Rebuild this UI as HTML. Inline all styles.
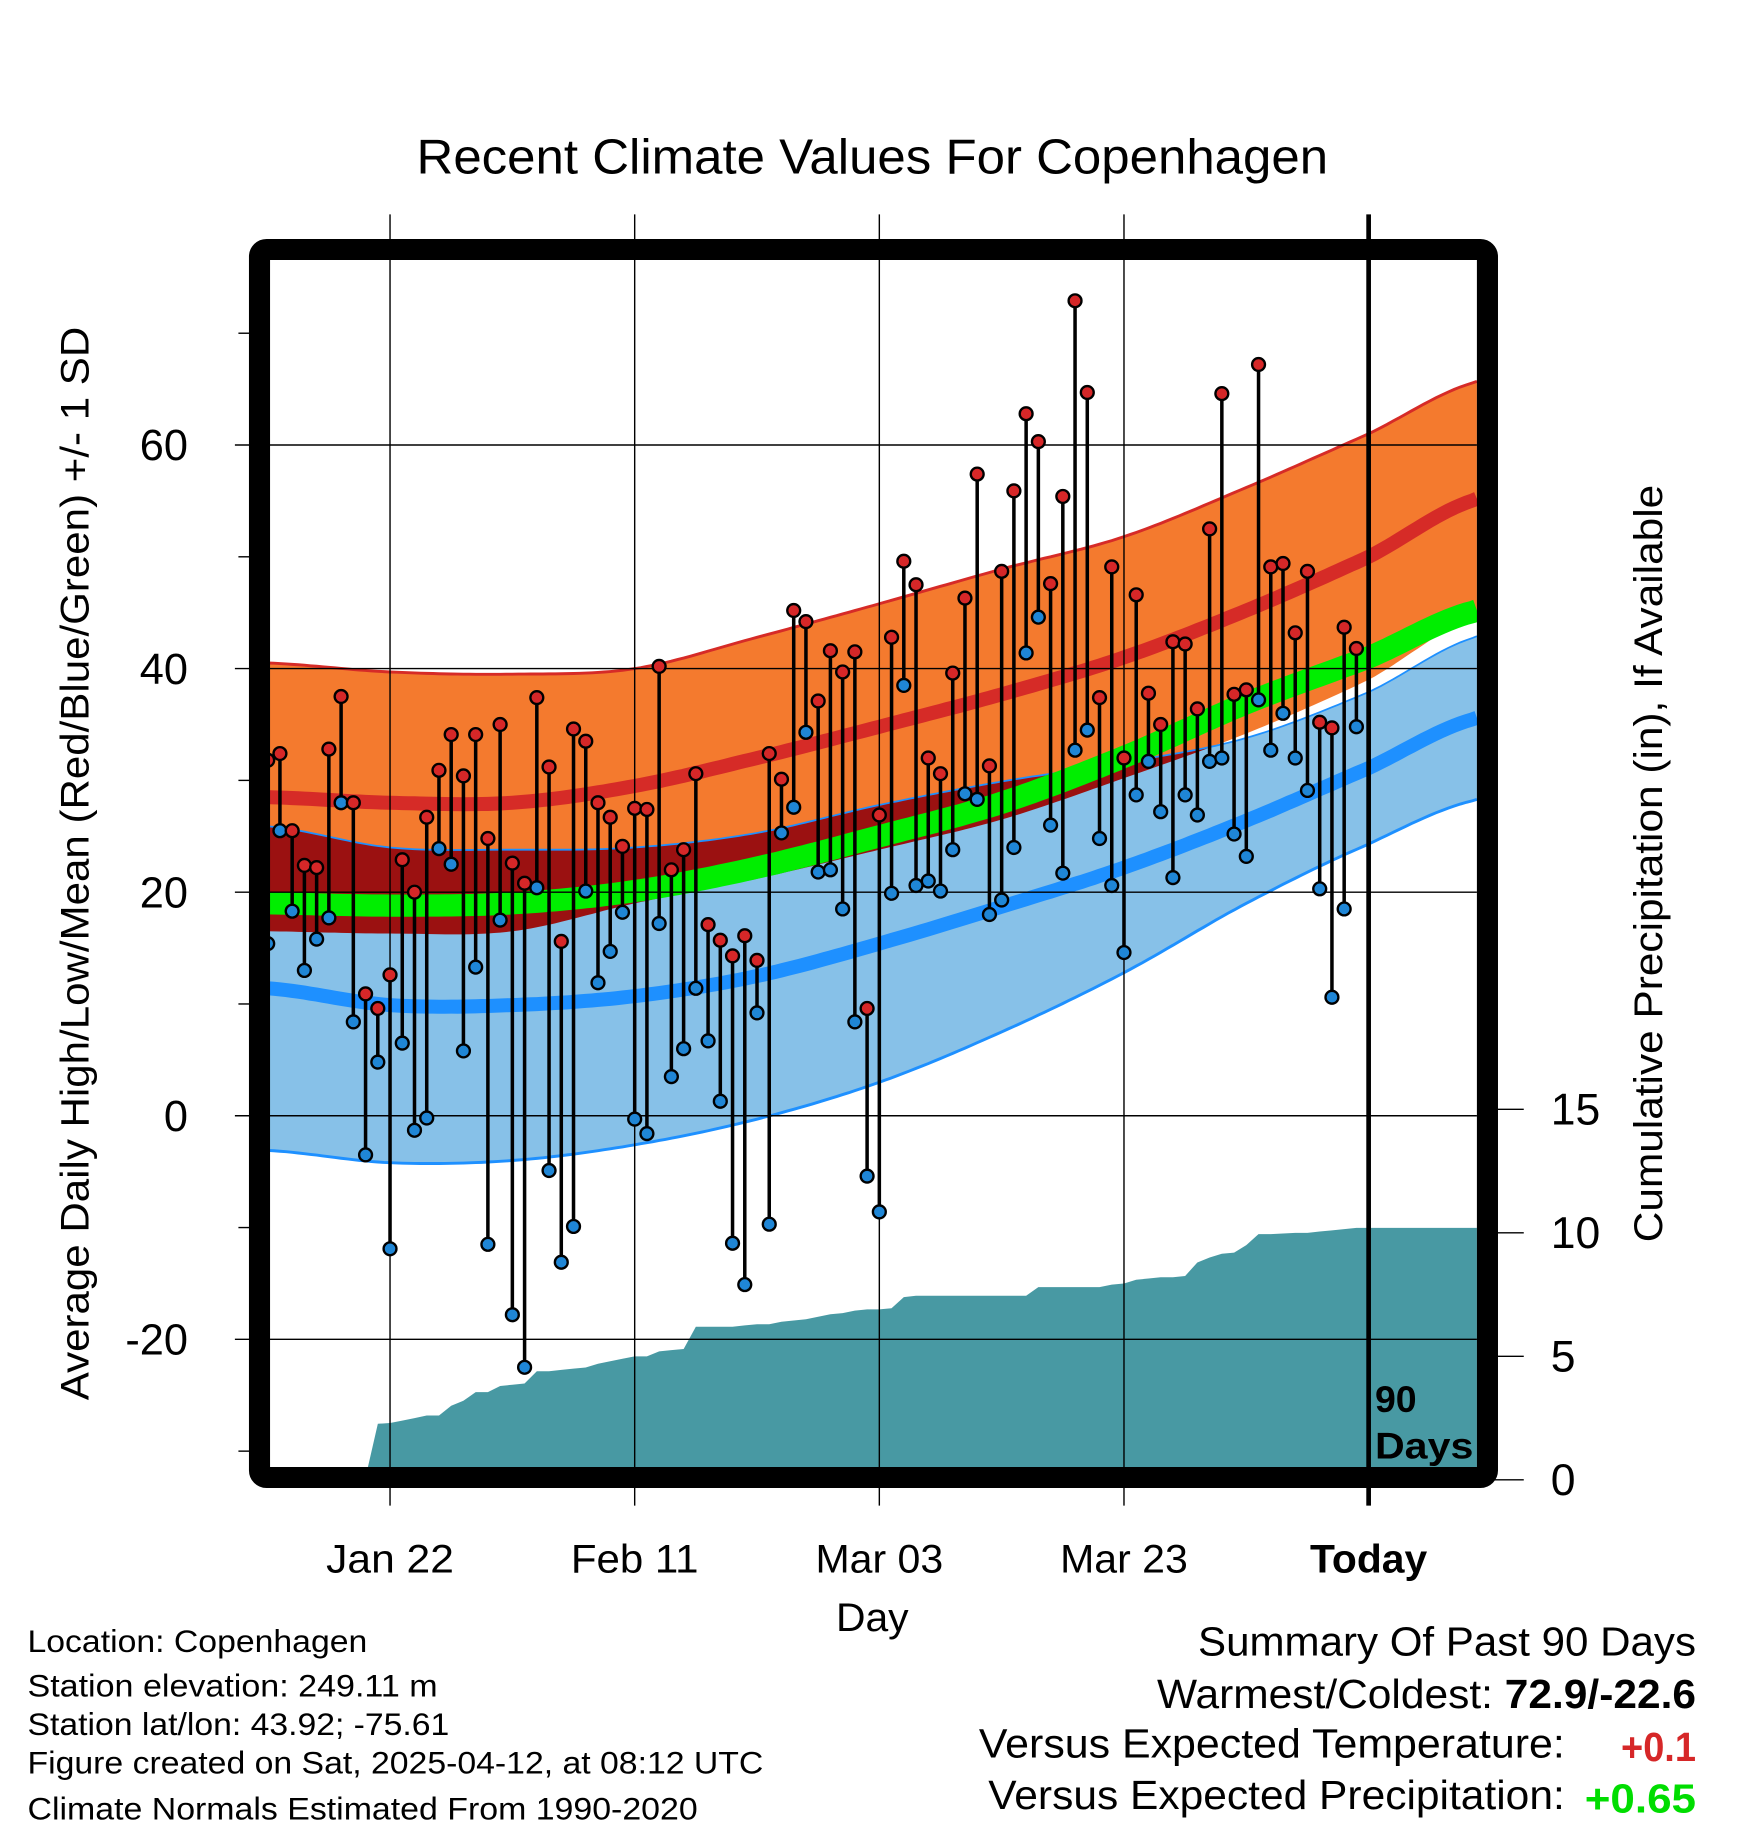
<!DOCTYPE html>
<html><head><meta charset="utf-8"><style>
html,body{margin:0;padding:0;background:#fff}
svg{display:block}
text{font-family:"Liberation Sans",sans-serif;fill:#000}
</style></head><body>
<svg id="chart" width="1748" height="1828" viewBox="0 0 1748 1828" xmlns="http://www.w3.org/2000/svg">
<g id="root" transform="translate(-5.3,-4.5) scale(1.1717,1.1706)">
<g id="bands"></g>
<g id="precip"></g>
<g id="grid"></g>
<g id="marks"></g>
<rect x="226" y="217" width="1048" height="1049" rx="6" fill="none" stroke="#000" stroke-width="18"/>
<g id="axes"></g>
<text x="360" y="152" font-size="42" textLength="778" lengthAdjust="spacingAndGlyphs">Recent Climate Values For Copenhagen</text>
<text x="718" y="1397" font-size="34" textLength="62" lengthAdjust="spacingAndGlyphs">Day</text>
<text transform="translate(80,1200) rotate(-90)" font-size="34" textLength="917" lengthAdjust="spacingAndGlyphs">Average Daily High/Low/Mean (Red/Blue/Green) +/- 1 SD</text>
<text transform="translate(1423,1065) rotate(-90)" font-size="34" textLength="647" lengthAdjust="spacingAndGlyphs">Cumulative Precipitation (in), If Available</text>
<text x="1178" y="1210" font-size="32" font-weight="bold">90</text>
<text x="1178" y="1250" font-size="32" font-weight="bold" textLength="84" lengthAdjust="spacingAndGlyphs">Days</text>
<g font-size="27">
<text x="28" y="1415" textLength="290" lengthAdjust="spacingAndGlyphs">Location: Copenhagen</text>
<text x="28" y="1453" textLength="350" lengthAdjust="spacingAndGlyphs">Station elevation: 249.11 m</text>
<text x="28" y="1486" textLength="360" lengthAdjust="spacingAndGlyphs">Station lat/lon: 43.92; -75.61</text>
<text x="28" y="1519" textLength="628" lengthAdjust="spacingAndGlyphs">Figure created on Sat, 2025-04-12, at 08:12 UTC</text>
<text x="28" y="1558" textLength="572" lengthAdjust="spacingAndGlyphs">Climate Normals Estimated From 1990-2020</text>
</g>
<g font-size="35">
<text x="1027" y="1418" textLength="425" lengthAdjust="spacingAndGlyphs">Summary Of Past 90 Days</text>
<text x="992" y="1463" textLength="460" lengthAdjust="spacingAndGlyphs">Warmest/Coldest: <tspan font-weight="bold">72.9/-22.6</tspan></text>
<text x="840" y="1505" textLength="500" lengthAdjust="spacingAndGlyphs">Versus Expected Temperature:</text>
<text x="1388" y="1508" font-weight="bold" textLength="64" lengthAdjust="spacingAndGlyphs" style="fill:#d62728">+0.1</text>
<text x="848" y="1549" textLength="492" lengthAdjust="spacingAndGlyphs">Versus Expected Precipitation:</text>
<text x="1357" y="1552" font-weight="bold" textLength="95" lengthAdjust="spacingAndGlyphs" style="fill:#00dd00">+0.65</text>
</g>
</g>
</svg>
<script>
// normals sampled every 10 days (index 0..100)
const normIdx = [0,10,20,30,40,50,60,70,80,90,99];
const normHigh = [28.5,28,28,29.5,32,34.8,37.7,41,45.2,50,55.2];
const sdHigh = [12,11.7,11.5,10.5,10.8,11,11.2,10.8,11,11,10.5];
const normLow = [11.4,9.9,9.9,10.7,12.5,15.4,18.7,22.2,26.4,31.1,35.6];
const sdLow = [14.5,14.1,13.9,13.3,12.8,12.4,11.2,9.4,7.4,6.8,7.3];
const normMean = [19,18.8,19,20.1,22.2,25,28,32.1,36.9,41,45.2];
const highs = [31.8,32.4,25.5,22.4,22.2,32.8,37.5,28,10.9,9.6,12.6,22.9,20,26.7,30.9,34.1,30.4,34.1,24.8,35,22.6,20.8,37.4,31.2,15.6,34.6,33.5,28,26.7,24.1,27.5,27.4,40.2,22,23.8,30.6,17.1,15.7,14.3,16.1,13.9,32.4,30.1,45.2,44.2,37.1,41.6,39.7,41.5,9.6,26.9,42.8,49.6,47.5,32,30.6,39.6,46.3,57.4,31.3,48.7,55.9,62.8,60.3,47.6,55.4,72.9,64.7,37.4,49.1,32,46.6,37.8,35,42.4,42.2,36.4,52.5,64.6,37.7,38.1,67.2,49.1,49.4,43.2,48.7,35.2,34.7,43.7,41.8];
const lows = [15.4,25.5,18.3,13,15.8,17.7,28,8.4,-3.5,4.8,-11.9,6.5,-1.3,-0.2,23.9,22.5,5.8,13.3,-11.5,17.5,-17.8,-22.5,20.4,-4.9,-13.1,-9.9,20.1,11.9,14.7,18.2,-0.3,-1.6,17.2,3.5,6,11.4,6.7,1.3,-11.4,-15.1,9.2,-9.7,25.3,27.6,34.3,21.8,22,18.5,8.4,-5.4,-8.6,19.9,38.5,20.6,21,20.1,23.8,28.8,28.3,18,19.3,24,41.4,44.6,26,21.7,32.7,34.5,24.8,20.6,14.6,28.7,31.7,27.2,21.3,28.7,26.9,31.7,32,25.2,23.2,37.2,32.7,36,32,29.1,20.3,10.6,18.5,34.8];
const precip = [0,0,0,0,0,0,0,0,0.1,2.27,2.3,2.4,2.5,2.6,2.6,3.0,3.2,3.55,3.55,3.8,3.85,3.9,4.4,4.4,4.45,4.5,4.55,4.7,4.8,4.9,5.0,5.0,5.2,5.25,5.3,6.2,6.2,6.2,6.2,6.25,6.3,6.3,6.4,6.45,6.5,6.6,6.7,6.75,6.85,6.9,6.9,6.95,7.4,7.45,7.45,7.45,7.45,7.45,7.45,7.45,7.45,7.45,7.45,7.8,7.8,7.8,7.8,7.8,7.8,7.9,7.95,8.1,8.15,8.2,8.2,8.25,8.8,9.0,9.15,9.2,9.5,9.95,9.95,9.97,10.0,10.0,10.05,10.1,10.15,10.2];
const tempTicks = [60,40,20,0,-20];
const tempMinor = [70,50,30,10,-10,-30];
const precipTicks = [0,5,10,15];
const dateLabels = ["Jan 22","Feb 11","Mar 03","Mar 23","Today"];
const dateIdx = [10,30,50,70,90];

const NS = "http://www.w3.org/2000/svg";
const xS = i => 233 + 10.44 * i;
const yT = t => 957 - 9.55 * t;
const yP = p => 1268 - 21.1 * p;
const X0 = 235, X1 = 1265;
function mk(tag, attrs, parent){const e=document.createElementNS(NS,tag);for(const k in attrs)e.setAttribute(k,attrs[k]);parent.appendChild(e);return e;}
// Catmull-Rom interpolation of the sampled normals
function interp(arr, d){
  const n=normIdx.length;
  let k=0; while(k<n-2 && d>normIdx[k+1]) k++;
  const f=Math.max(0,Math.min(1,(d-normIdx[k])/(normIdx[k+1]-normIdx[k])));
  const p0=arr[Math.max(0,k-1)],p1=arr[k],p2=arr[k+1],p3=arr[Math.min(n-1,k+2)];
  return 0.5*((2*p1)+(-p0+p2)*f+(2*p0-5*p1+4*p2-p3)*f*f+(-p0+3*p1-3*p2+p3)*f*f*f);
}
const days=[];for(let d=0;d<=99.3;d+=0.5)days.push(d);
function curve(fn){return days.map(d=>[Math.max(X0-2,Math.min(X1,xS(d))),fn(d)]);}
const hiTop=curve(d=>yT(interp(normHigh,d)+interp(sdHigh,d)));
const hiBot=curve(d=>yT(interp(normHigh,d)-interp(sdHigh,d)));
const loTop=curve(d=>yT(interp(normLow,d)+interp(sdLow,d)));
const loBot=curve(d=>yT(interp(normLow,d)-interp(sdLow,d)));
const hiMid=curve(d=>yT(interp(normHigh,d)));
const loMid=curve(d=>yT(interp(normLow,d)));
const mnMid=curve(d=>yT(interp(normMean,d)));
const overTop=curve(d=>yT(Math.min(interp(normLow,d)+interp(sdLow,d),interp(normHigh,d)+interp(sdHigh,d))));
const overBot=curve(d=>yT(Math.min(interp(normHigh,d)-interp(sdHigh,d),interp(normLow,d)+interp(sdLow,d))));
const pts=a=>a.map(p=>p[0].toFixed(1)+","+p[1].toFixed(1)).join(" ");
const band=(a,b)=>pts(a)+" "+pts(b.slice().reverse());
const B=document.getElementById('bands');
let e;
e=mk('polygon',{points:band(hiTop,hiBot),fill:'#f47a2e'},B);


e=mk('polygon',{points:band(loTop,loBot),fill:'#87c1e8'},B);


e=mk('polygon',{points:band(overTop,overBot),fill:'#9b1111'},B);


e=mk('polyline',{points:pts(hiTop),fill:'none',stroke:'#d62b27','stroke-width':2.5},B);


e=mk('polyline',{points:pts(loTop),fill:'none',stroke:'#1e90ff','stroke-width':1.5},B);


e=mk('polyline',{points:pts(loBot),fill:'none',stroke:'#1e90ff','stroke-width':2.5},B);


e=mk('polyline',{points:pts(hiMid),fill:'none',stroke:'#d62b27','stroke-width':12},B);


e=mk('polyline',{points:pts(loMid),fill:'none',stroke:'#1e90ff','stroke-width':12},B);


e=mk('polyline',{points:pts(mnMid),fill:'none',stroke:'#00ee00','stroke-width':19},B);



// precipitation area
const P=document.getElementById('precip');
let pp=[[X0,yP(0)]];
precip.forEach((v,i)=>pp.push([Math.max(X0,xS(i)),yP(v)]));
pp.push([X1,yP(precip[precip.length-1])]);pp.push([X1,yP(0)]);
e=mk('polygon',{points:pts(pp),fill:'#4899a3'},P);



// grid + axes
const G=document.getElementById('grid');
const A=document.getElementById('axes');
tempTicks.forEach(t=>{
  e=mk('line',{x1:205,x2:1265,y1:yT(t),y2:yT(t),stroke:'#000','stroke-width':1.2},G);
  
  
  e=mk('text',{x:165,y:yT(t)+13,'font-size':37,'text-anchor':'end'},A);
  e.textContent=t;
  
  
});
tempMinor.forEach(t=>{
  e=mk('line',{x1:208,x2:220,y1:yT(t),y2:yT(t),stroke:'#000','stroke-width':1.2},A);
  
  
});
precipTicks.forEach(p=>{
  e=mk('line',{x1:1275,x2:1305,y1:yP(p),y2:yP(p),stroke:'#000','stroke-width':1.2},A);
  
  
  e=mk('text',{x:1328,y:yP(p)+13,'font-size':38},A);
  e.textContent=p;
  
  
});
dateIdx.forEach((d,k)=>{
  const today = dateLabels[k]==='Today';
  e=mk('line',{x1:xS(d),x2:xS(d),y1:187,y2:1290,stroke:'#000','stroke-width':today?4:1.2},today?A:G);
  
  
  e=mk('text',{x:xS(d),y:1347,'font-size':34,'text-anchor':'middle','font-weight':today?'bold':'normal',textLength:today?100:109,lengthAdjust:'spacingAndGlyphs'},A);
  e.textContent=dateLabels[k];
  
  
});

// temperature marks
const M=document.getElementById('marks');
highs.forEach((h,i)=>{
  e=mk('line',{x1:xS(i),x2:xS(i),y1:yT(h),y2:yT(lows[i]),stroke:'#000','stroke-width':3},M);
  
  
});
highs.forEach((h,i)=>{
  e=mk('circle',{cx:xS(i),cy:yT(h),r:5.5,fill:'#d62728',stroke:'#000','stroke-width':2},M);
  
  
  e=mk('circle',{cx:xS(i),cy:yT(lows[i]),r:5.5,fill:'#1f86d6',stroke:'#000','stroke-width':2},M);
  
  
});
</script>
</body></html>
